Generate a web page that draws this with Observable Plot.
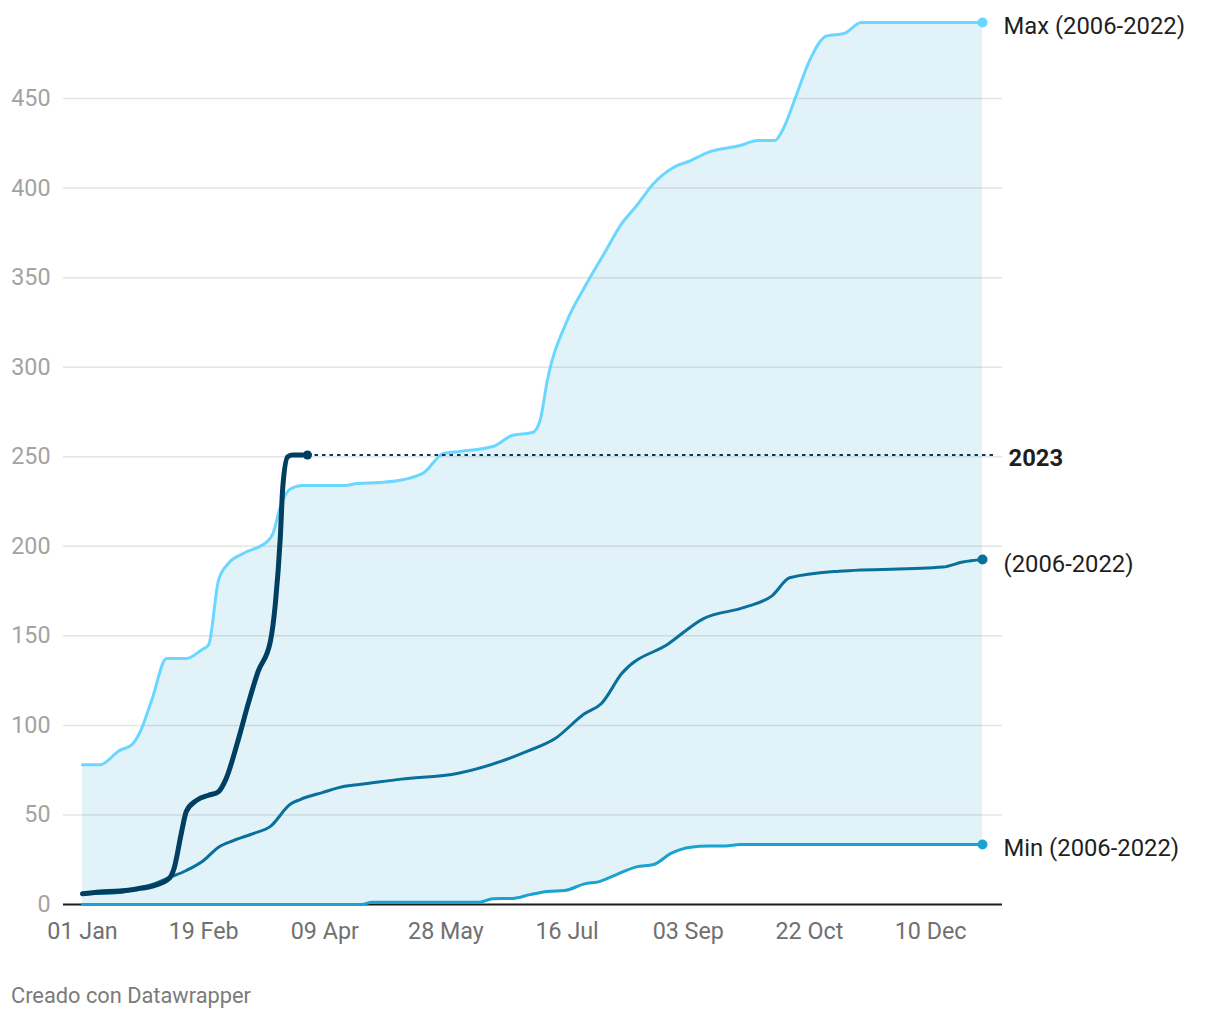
<!DOCTYPE html>
<html>
<head>
<meta charset="utf-8">
<script src="https://cdn.jsdelivr.net/npm/d3@7"></script>
<script src="https://cdn.jsdelivr.net/npm/@observablehq/plot@0.6"></script>
<style>
  html, body { margin: 0; padding: 0; background: #fff; }
  body { width: 1220px; height: 1020px; position: relative; font-family: Roboto, sans-serif; }
  #chart { position: absolute; left: 0; top: 0; }
  #footer { position: absolute; left: 11px; top: 985px; font-size: 21.8px; line-height: 1; color: #7b7b7b; font-family: Roboto, sans-serif; }
</style>
</head>
<body>
<div id="chart"></div>
<div id="footer">Creado con Datawrapper</div>
<script>
// ---- Data ----
const maxSeries = [
  ["2023-01-01", 78], ["2023-01-08", 78], ["2023-01-16", 86], ["2023-01-21", 89.3], ["2023-01-24", 95.5],
  ["2023-01-29", 114], ["2023-02-04", 137.4], ["2023-02-12", 137.4], ["2023-02-18", 142], ["2023-02-21", 145],
  ["2023-02-25", 181], ["2023-03-01", 190.4], ["2023-03-07", 196], ["2023-03-17", 203], ["2023-03-19", 207],
  ["2023-03-22", 222], ["2023-03-26", 232], ["2023-03-31", 234], ["2023-04-17", 234], ["2023-04-22", 235],
  ["2023-05-01", 235.6], ["2023-05-11", 237.3], ["2023-05-19", 241], ["2023-05-27", 251.8], ["2023-06-03", 253],
  ["2023-06-16", 255.7], ["2023-06-24", 262], ["2023-07-02", 263.5], ["2023-07-05", 270], ["2023-07-08", 292.6],
  ["2023-07-16", 326], ["2023-07-23", 344.5], ["2023-07-31", 363.5], ["2023-08-07", 380], ["2023-08-13", 390],
  ["2023-08-20", 402.6], ["2023-08-28", 411.5], ["2023-09-04", 415.4], ["2023-09-11", 420], ["2023-09-24", 423.8],
  ["2023-10-01", 426.6], ["2023-10-08", 426.6], ["2023-10-11", 432], ["2023-10-17", 453], ["2023-10-22", 471],
  ["2023-10-29", 485], ["2023-11-05", 486.3], ["2023-11-12", 492.5], ["2023-12-31", 492.5]
];
const minSeries = [
  ["2023-01-01", 0], ["2023-04-24", 0], ["2023-04-28", 1.2], ["2023-06-10", 1.2], ["2023-06-16", 3.2],
  ["2023-06-24", 3.4], ["2023-07-01", 5.5], ["2023-07-08", 7.3], ["2023-07-15", 7.8], ["2023-07-23", 11.5],
  ["2023-07-29", 12.8], ["2023-08-05", 16.7], ["2023-08-13", 21], ["2023-08-20", 22.3], ["2023-08-27", 28.5],
  ["2023-09-04", 32], ["2023-09-11", 32.6], ["2023-09-18", 32.6], ["2023-09-24", 33.5], ["2023-12-31", 33.5]
];
const avgSeries = [
  ["2023-01-01", 6], ["2023-01-16", 6.7], ["2023-01-23", 9], ["2023-01-31", 12], ["2023-02-04", 14.5],
  ["2023-02-12", 19], ["2023-02-19", 24.6], ["2023-02-25", 32], ["2023-03-03", 35.7], ["2023-03-11", 39.6],
  ["2023-03-18", 43.6], ["2023-03-26", 56], ["2023-03-30", 58.6], ["2023-04-08", 62.5], ["2023-04-17", 66],
  ["2023-04-23", 67], ["2023-05-10", 70], ["2023-06-02", 73.3], ["2023-06-30", 85.6], ["2023-07-11", 92.5],
  ["2023-07-23", 106.5], ["2023-07-30", 112.4], ["2023-08-07", 128.8], ["2023-08-26", 145.6], ["2023-09-09", 159.5],
  ["2023-09-26", 166], ["2023-10-07", 172.5], ["2023-10-14", 182.4], ["2023-11-03", 186.1], ["2023-12-15", 188.4],
  ["2023-12-23", 191.2], ["2023-12-31", 192.6]
];
const series2023 = [
  ["2023-01-01", 6], ["2023-01-08", 7], ["2023-01-16", 7.5], ["2023-01-23", 8.7], ["2023-01-30", 10.6],
  ["2023-02-05", 14.5], ["2023-02-07", 20], ["2023-02-10", 40], ["2023-02-12", 52], ["2023-02-16", 58],
  ["2023-02-21", 61], ["2023-02-25", 63], ["2023-02-28", 70], ["2023-03-05", 92], ["2023-03-09", 112],
  ["2023-03-13", 130], ["2023-03-18", 147], ["2023-03-20", 168], ["2023-03-22", 205], ["2023-03-23", 233],
  ["2023-03-25", 250], ["2023-03-27", 251], ["2023-04-02", 251]
];
const xTickLabels = ["2023-01-01", "2023-02-19", "2023-04-09", "2023-05-28", "2023-07-16", "2023-09-03", "2023-10-22", "2023-12-10"];
const yTicks = [0, 50, 100, 150, 200, 250, 300, 350, 400, 450];
const seriesLabels = ["Max (2006-2022)", "(2006-2022)", "Min (2006-2022)", "2023"];

// ---- Build tables ----
const rows = arr => arr.map(([d, v]) => ({date: new Date(d), value: v}));
const maxRows = rows(maxSeries), minRows = rows(minSeries), avgRows = rows(avgSeries), rows2023 = rows(series2023);
const endDate = new Date("2023-12-31");
const last = a => a[a.length - 1];

const colMax = "#6bd6ff", colAvg = "#08709b", colMin = "#1aa2d1", col2023 = "#003f62";

const endLabels = [
  {...last(maxRows), label: seriesLabels[0], dy: 4},
  {...last(avgRows), label: seriesLabels[1], dy: 5},
  {...last(minRows), label: seriesLabels[2], dy: 3.5}
];

const chart = Plot.plot({
  width: 1220,
  height: 960,
  marginLeft: 82,
  marginRight: 238,
  marginTop: 8.5,
  marginBottom: 56,
  style: {fontFamily: "Roboto, sans-serif", fontSize: "23px", background: "#fff", overflow: "visible"},
  x: {type: "utc", domain: [new Date("2023-01-01"), endDate]},
  y: {domain: [0, 500]},
  marks: [
    Plot.areaY(maxRows, {x: "date", y: "value", fill: "#e1f3f8", curve: "monotone-x"}),
    Plot.areaY(minRows, {x: "date", y: "value", fill: "#ffffff", curve: "monotone-x"}),
    Plot.ruleY(yTicks.filter(t => t > 0), {stroke: "#000", strokeOpacity: 0.1, strokeWidth: 1.5, insetLeft: -19, insetRight: -20}),
    Plot.ruleY([0], {stroke: "#1d1d1d", strokeWidth: 2, insetLeft: -19, insetRight: -20}),
    Plot.axisY(yTicks, {tickSize: 0, tickPadding: 32, color: "#a3a3a3", fontSize: 23.3, label: null}),
    Plot.axisX(xTickLabels.map(d => new Date(d)), {tickSize: 0, tickPadding: 18, tickFormat: d3.utcFormat("%d %b"), color: "#707070", fontSize: 23.3, label: null}),
    Plot.lineY(minRows, {x: "date", y: "value", stroke: colMin, strokeWidth: 3, curve: "monotone-x"}),
    Plot.lineY(avgRows, {x: "date", y: "value", stroke: colAvg, strokeWidth: 3, curve: "monotone-x"}),
    Plot.lineY(maxRows, {x: "date", y: "value", stroke: colMax, strokeWidth: 3, curve: "monotone-x"}),
    Plot.ruleY([last(rows2023)], {y: "value", x1: "date", x2: () => endDate, stroke: col2023, strokeWidth: 2, strokeDasharray: "3.5,4", insetRight: -15}),
    Plot.lineY(rows2023, {x: "date", y: "value", stroke: col2023, strokeWidth: 5, curve: "monotone-x", strokeLinecap: "round"}),
    Plot.dot([last(maxRows)], {x: "date", y: "value", r: 5, fill: colMax}),
    Plot.dot([last(avgRows)], {x: "date", y: "value", r: 5, fill: colAvg}),
    Plot.dot([last(minRows)], {x: "date", y: "value", r: 5, fill: colMin}),
    Plot.dot([last(rows2023)], {x: "date", y: "value", r: 4.5, fill: col2023}),
    ...endLabels.map(d => Plot.text([d], {x: "date", y: "value", text: "label", dx: 21, dy: d.dy, textAnchor: "start", fill: "#1f1f1f", fontSize: 23.8})),
    Plot.text([{date: endDate, value: last(rows2023).value, label: seriesLabels[3]}], {x: "date", y: "value", text: "label", dx: 26, dy: 3.5, textAnchor: "start", fill: "#1f1f1f", fontSize: 23.8, fontWeight: "bold"})
  ]
});
document.getElementById("chart").appendChild(chart);
</script>
</body>
</html>
